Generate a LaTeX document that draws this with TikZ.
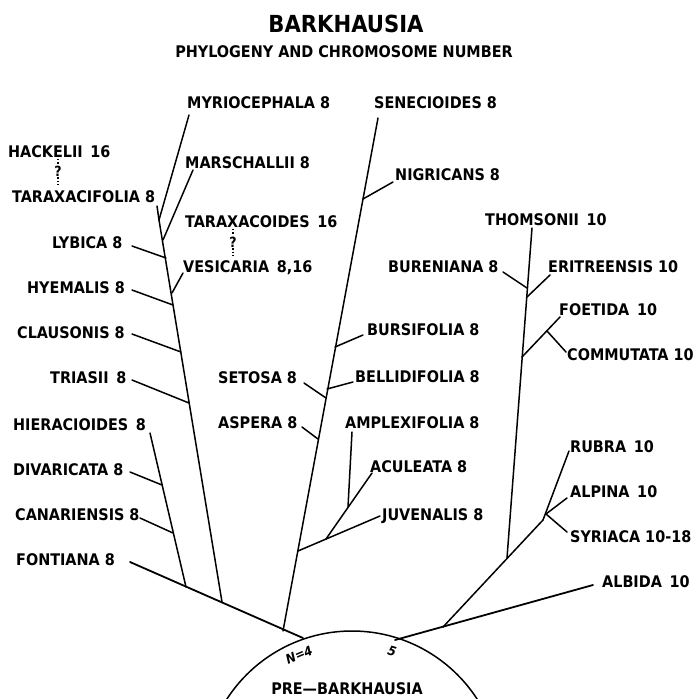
\documentclass[tikz,border=0pt]{standalone}
\usepackage{fontspec}
\setmainfont{DejaVu Sans Condensed}
\begin{document}
\begin{tikzpicture}[x=1pt,y=-1pt,
  lab/.style={anchor=base west,inner sep=0pt,font=\bfseries\fontsize{16}{18}\selectfont},
  qm/.style={inner sep=1pt,font=\bfseries\fontsize{14}{16}\selectfont},
  br/.style={line width=1.5pt,line cap=round},
  dots/.style={line width=1.3pt,dotted}]
\fill[white] (0,0) rectangle (699,699);
\useasboundingbox (0,0) rectangle (699,699);

% titles
\node[anchor=base,inner sep=0pt,font=\bfseries\fontsize{23.5}{26}\selectfont] (title) at (346,32) {BARKHAUSIA};
\node[anchor=base,inner sep=0pt,font=\bfseries\fontsize{16}{18}\selectfont] (sub) at (344,57) {PHYLOGENY AND CHROMOSOME NUMBER};

% labels
\node[lab] (myr) at (187,108) {MYRIOCEPHALA 8};
\node[lab] (sen) at (374,108) {SENECIOIDES 8};
\node[lab] (hac) at (8,157) {HACKELII\, 16};
\node[lab] (mar) at (185,168) {MARSCHALLII 8};
\node[lab] (nig) at (395,180) {NIGRICANS 8};
\node[lab] (tfo) at (12,202) {TARAXACIFOLIA 8};
\node[lab] (tco) at (185,227) {TARAXACOIDES\, 16};
\node[lab] (tho) at (485,225) {THOMSONII\, 10};
\node[lab] (lyb) at (52,248) {LYBICA 8};
\node[lab] (ves) at (183,272) {VESICARIA\, 8,16};
\node[lab] (bur) at (388,272) {BURENIANA 8};
\node[lab] (eri) at (548,272) {ERITREENSIS 10};
\node[lab] (hye) at (27,293) {HYEMALIS 8};
\node[lab] (foe) at (559,315) {FOETIDA\, 10};
\node[lab] (bus) at (367,335) {BURSIFOLIA 8};
\node[lab] (cla) at (17,338) {CLAUSONIS 8};
\node[lab] (com) at (567,360) {COMMUTATA 10};
\node[lab] (tri) at (50,383) {TRIASII\, 8};
\node[lab] (set) at (218,383) {SETOSA 8};
\node[lab] (bel) at (355,382) {BELLIDIFOLIA 8};
\node[lab] (hie) at (13,430) {HIERACIOIDES\, 8};
\node[lab] (asp) at (218,428) {ASPERA 8};
\node[lab] (amp) at (345,428) {AMPLEXIFOLIA 8};
\node[lab] (rub) at (570,452) {RUBRA\, 10};
\node[lab] (acu) at (370,472) {ACULEATA 8};
\node[lab] (div) at (13,475) {DIVARICATA 8};
\node[lab] (alp) at (570,497) {ALPINA\, 10};
\node[lab] (can) at (15,520) {CANARIENSIS 8};
\node[lab] (juv) at (382,520) {JUVENALIS 8};
\node[lab] (syr) at (570,542) {SYRIACA 10-18};
\node[lab] (fon) at (16,565) {FONTIANA 8};
\node[lab] (alb) at (602,587) {ALBIDA\, 10};

% question marks
\node[qm] (q1) at (58,171) {?};
\node[qm] (q2) at (233,242) {?};

% base circle (pre-Barkhausia)
\draw[br] (352,780) circle[radius=149];
\node[anchor=base,inner sep=0pt,font=\bfseries\fontsize{16}{18}\selectfont] (prel) at (347,694) {PRE—BARKHAUSIA};
\node[inner sep=0pt,rotate=23,font=\bfseries\itshape\fontsize{13}{15}\selectfont] (n4) at (299,655) {N=4};
\node[inner sep=0pt,rotate=-17,font=\bfseries\itshape\fontsize{13}{15}\selectfont] (n5) at (392,651) {5};

% coordinates: left group
\coordinate (myrT) at (189,115);
\coordinate (b1) at (159,220);
\coordinate (trE) at (222,602);
\coordinate (tfoE) at (157,206);
\coordinate (marE) at (193,170);  \coordinate (marJ) at (163,240);
\coordinate (lybE) at (132,246);  \coordinate (lybJ) at (166,258);
\coordinate (vesE) at (183,273);  \coordinate (vesJ) at (172,293);
\coordinate (hyeE) at (132,290);  \coordinate (hyeJ) at (173,305);
\coordinate (claE) at (132,334);  \coordinate (claJ) at (181,352);
\coordinate (triE) at (132,380);  \coordinate (triJ) at (189,403);
\coordinate (hieE) at (150,433);  \coordinate (hieJ) at (186,587);
\coordinate (divE) at (130,472);  \coordinate (divJ) at (162,485);
\coordinate (canE) at (140,518);  \coordinate (canJ) at (173,533);
\coordinate (fonE) at (130,562);  \coordinate (n4p) at (303,638);
\coordinate (hacB) at (58,159);   \coordinate (tfoT) at (58,187);
\coordinate (tcoB) at (233,229);  \coordinate (vesT) at (233,257);

% center group
\coordinate (senT) at (378,118);  \coordinate (senB) at (283,631);
\coordinate (nigE) at (393,182);  \coordinate (nigJ) at (363,199);
\coordinate (busE) at (363,335);  \coordinate (busJ) at (335,347);
\coordinate (belE) at (353,382);  \coordinate (belJ) at (327,389);
\coordinate (setE) at (304,383);  \coordinate (setJ) at (326,398);
\coordinate (aspE) at (302,427);  \coordinate (aspJ) at (318,439);
\coordinate (juvE) at (380,516);  \coordinate (juvJ) at (298,551);
\coordinate (acuE) at (372,473);  \coordinate (acuJ) at (326,539);
\coordinate (ampE) at (352,432);  \coordinate (ampJ) at (348,507);

% right group
\coordinate (albE) at (593,585);  \coordinate (n5p) at (395,640);
\coordinate (diaB) at (443,627);  \coordinate (diaT) at (543,520);
\coordinate (rubE) at (569,451);
\coordinate (alpE) at (567,498);  \coordinate (aj) at (546,514);
\coordinate (syrE) at (567,532);
\coordinate (thoT) at (532,228);  \coordinate (thoB) at (507,558);
\coordinate (burE) at (503,272);  \coordinate (burJ) at (527,288);
\coordinate (eriE) at (550,275);  \coordinate (eriJ) at (527,297);
\coordinate (foeE) at (560,317);  \coordinate (foeJ) at (522,357);
\coordinate (comE) at (566,352);  \coordinate (comJ) at (547,331);

% left branches
\draw[br] (myrT) -- (b1) -- (trE);
\draw[br] (tfoE) -- (b1);
\draw[br] (marE) -- (marJ);
\draw[br] (lybE) -- (lybJ);
\draw[br] (vesE) -- (vesJ);
\draw[br] (hyeE) -- (hyeJ);
\draw[br] (claE) -- (claJ);
\draw[br] (triE) -- (triJ);
\draw[br] (hieE) -- (hieJ);
\draw[br] (divE) -- (divJ);
\draw[br] (canE) -- (canJ);
\draw[br,line width=1.8pt] (fonE) -- (n4p);
\draw[dots] (hacB) -- (q1.north);
\draw[dots] (q1.south) -- (tfoT);
\draw[dots] (tcoB) -- (q2.north);
\draw[dots] (q2.south) -- (vesT);

% center branches
\draw[br] (senT) -- (senB);
\draw[br] (nigE) -- (nigJ);
\draw[br] (busE) -- (busJ);
\draw[br] (belE) -- (belJ);
\draw[br] (setE) -- (setJ);
\draw[br] (aspE) -- (aspJ);
\draw[br] (juvE) -- (juvJ);
\draw[br] (acuE) -- (acuJ);
\draw[br] (ampE) -- (ampJ);

% right branches
\draw[br,line width=1.8pt] (albE) -- (n5p);
\draw[br] (diaB) -- (diaT);
\draw[br] (rubE) -- (diaT);
\draw[br] (alpE) -- (aj) -- (syrE);
\draw[br] (thoT) -- (thoB);
\draw[br] (burE) -- (burJ);
\draw[br] (eriE) -- (eriJ);
\draw[br] (foeE) -- (foeJ);
\draw[br] (comE) -- (comJ);
\end{tikzpicture}
\end{document}
